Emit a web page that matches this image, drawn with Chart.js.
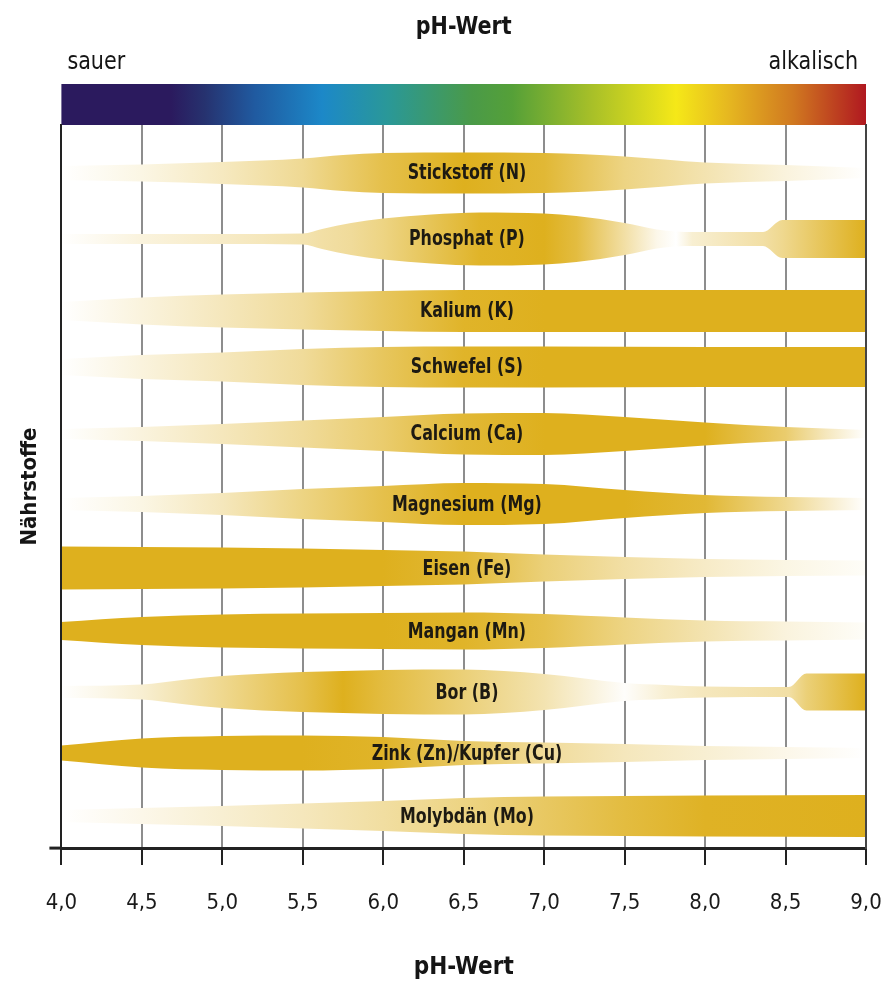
<!DOCTYPE html>
<html><head><meta charset="utf-8">
<script src="https://cdn.jsdelivr.net/npm/chart.js@4.4.1/dist/chart.umd.min.js"></script>
<style>html,body{margin:0;padding:0;background:#fff}#wrap{width:888px;height:985px}</style>
</head><body><div id="wrap"><canvas id="c" width="888" height="985"></canvas></div>
<script>
const FONT = '"Liberation Sans Narrow","DejaVu Sans Condensed","Roboto",sans-serif';

// ---------- data ----------
const nutrients = ['Stickstoff (N)','Phosphat (P)','Kalium (K)','Schwefel (S)','Calcium (Ca)','Magnesium (Mg)','Eisen (Fe)','Mangan (Mn)','Bor (B)','Zink (Zn)/Kupfer (Cu)','Molybdän (Mo)'];
const rowCenter = [67.5, 60.9, 53.7, 48.1, 41.4, 34.4, 28.0, 21.7, 15.6, 9.5, 3.2];

const phN    = [4.0,4.5,5.0,5.5,5.75,6.0,6.5,7.0,7.5,8.0,8.5,9.0];
const halfN  = [0.7,0.85,1.1,1.45,1.8,2.0,2.05,2.0,1.65,1.05,0.8,0.5];
const alphaN = [0,0.12,0.28,0.48,0.65,0.8,1,0.9,0.55,0.35,0.15,0];

const phP    = [4.0,4.5,5.0,5.5,5.62,5.8,6.0,6.3,6.6,7.0,7.2,7.5,7.7,7.82,7.92,8.36,8.48,9.0];
const halfP  = [0.5,0.5,0.5,0.55,1.0,1.6,2.05,2.45,2.65,2.55,2.3,1.6,0.95,0.75,0.7,0.7,1.9,1.9];
const alphaP = [0,0.15,0.25,0.35,0.4,0.45,0.55,0.75,0.95,1,0.85,0.4,0.1,0,0.2,0.4,0.5,1];

const phK    = [4.0,4.5,5.0,5.5,6.0,6.5,7.0,8.0,9.0];
const halfK  = [0.9,1.35,1.65,1.85,2.0,2.1,2.1,2.1,2.1];
const alphaK = [0,0.15,0.3,0.45,0.72,0.95,1,1,1];

const phS    = [4.0,4.5,5.0,5.5,6.0,6.5,7.0,8.0,9.0];
const halfS  = [0.8,1.2,1.45,1.8,2.0,2.05,2.05,2.0,2.0];
const alphaS = [0,0.15,0.3,0.45,0.72,0.95,1,1,1];

const phCa    = [4.0,4.5,5.0,5.5,6.0,6.5,7.0,7.5,8.0,8.5,8.75,9.0];
const halfCa  = [0.5,0.7,1.0,1.35,1.7,2.05,2.1,1.7,1.15,0.7,0.55,0.4];
const alphaCa = [0,0.15,0.3,0.45,0.65,0.9,1,1,1,0.65,0.3,0];

const phMg    = [4.0,4.5,5.0,5.5,6.0,6.5,7.0,7.5,8.0,8.5,8.75,9.0];
const halfMg  = [0.6,0.8,1.1,1.5,1.8,2.1,2.0,1.4,0.9,0.7,0.65,0.6];
const alphaMg = [0,0.12,0.3,0.55,0.8,1,1,1,0.9,0.5,0.25,0];

const phFe    = [4.0,4.5,5.0,5.5,6.0,6.5,7.0,7.5,8.0,8.5,9.0];
const halfFe  = [2.15,2.1,2.05,1.95,1.8,1.65,1.35,1.1,0.9,0.8,0.75];
const alphaFe = [1,1,1,1,1,0.9,0.6,0.4,0.25,0.12,0.03];

const phMn    = [4.0,4.5,5.0,5.5,6.0,6.5,7.0,7.5,8.0,8.5,9.0];
const halfMn  = [0.9,1.4,1.65,1.75,1.8,1.85,1.7,1.35,1.05,0.95,0.85];
const alphaMn = [1,1,1,1,1,0.95,0.8,0.55,0.35,0.15,0.03];

const phB    = [4.0,4.5,4.75,5.0,5.5,5.75,6.0,6.5,7.0,7.5,7.75,8.0,8.52,8.63,9.0];
const halfB  = [0.6,0.75,1.2,1.6,2.0,2.1,2.2,2.25,1.8,0.9,0.7,0.55,0.5,1.85,1.85];
const alphaB = [0,0.2,0.35,0.5,0.8,1,0.85,0.6,0.35,0.02,0.2,0.3,0.4,0.6,1];

const phZn    = [4.0,4.5,5.0,5.5,6.0,6.5,7.0,7.5,8.0,8.5,9.0];
const halfZn  = [0.75,1.45,1.7,1.75,1.6,1.2,1.05,0.9,0.7,0.6,0.5];
const alphaZn = [1,1,1,1,0.95,0.7,0.45,0.3,0.2,0.1,0];

const phMo    = [4.0,4.5,5.0,5.5,6.0,6.5,7.0,7.5,8.0,9.0];
const halfMo  = [0.6,0.8,1.0,1.25,1.5,1.8,1.95,2.0,2.05,2.1];
const alphaMo = [0,0.1,0.2,0.3,0.42,0.55,0.7,0.85,0.97,1];

const xTicks = [4.0,4.5,5.0,5.5,6.0,6.5,7.0,7.5,8.0,8.5,9.0];
const barPH = [4.0,4.68,4.89,5.2,5.62,6.03,6.55,6.8,7.3,7.82,8.14,8.55,9.0];
const barColors = ['#2b1a5e','#2b1a5e','#26326f','#205aa0','#1c88c8','#2a9898','#4a9a48','#55a038','#a8c028','#f5e818','#e6b820','#d07820','#b01820'];
const labelPH = 6.52;

// ---------- build ----------
const phs = [phN,phP,phK,phS,phCa,phMg,phFe,phMn,phB,phZn,phMo];
const halves = [halfN,halfP,halfK,halfS,halfCa,halfMg,halfFe,halfMn,halfB,halfZn,halfMo];
const alphas = [alphaN,alphaP,alphaK,alphaS,alphaCa,alphaMg,alphaFe,alphaMn,alphaB,alphaZn,alphaMo];
const GOLD = [222,176,30];
function mix(a){
  const c = GOLD.map(v => Math.round(255 + (v - 255) * a));
  return `rgb(${c[0]},${c[1]},${c[2]})`;
}
function gradFor(chart, i){
  const xs = chart.scales && chart.scales.x;
  if (!chart.chartArea || !xs) return mix(1);
  const x0 = xs.getPixelForValue(xTicks[0]), x1 = xs.getPixelForValue(xTicks[xTicks.length-1]);
  if (!isFinite(x0) || !isFinite(x1) || x1 <= x0) return mix(1);
  const g = chart.ctx.createLinearGradient(x0,0,x1,0);
  phs[i].forEach((p,k) => {
    const t = Math.min(1, Math.max(0, (xs.getPixelForValue(p) - x0) / (x1 - x0)));
    g.addColorStop(t, mix(alphas[i][k]));
  });
  return g;
}
const datasets = [];
nutrients.forEach((name, i) => {
  datasets.push({
    label: name + ' oben',
    data: phs[i].map((p,k) => ({x:p, y: rowCenter[i] + halves[i][k]})),
    fill: false, borderWidth: 0, borderColor: 'rgba(0,0,0,0)', pointRadius: 0
  });
  datasets.push({
    label: name,
    data: phs[i].map((p,k) => ({x:p, y: rowCenter[i] - halves[i][k]})),
    fill: '-1', borderWidth: 0, borderColor: 'rgba(0,0,0,0)', pointRadius: 0,
    backgroundColor: (ctx) => gradFor(ctx.chart, i)
  });
});

function condensedText(ctx, text, x, y, sx){
  ctx.save();
  ctx.translate(x, y);
  ctx.scale(sx, 1);
  ctx.fillText(text, 0, 0);
  ctx.restore();
}

const decor = {
  id: 'decor',
  beforeDraw(chart){
    const {ctx, chartArea:a, scales:{x}} = chart;
    const x0 = x.getPixelForValue(xTicks[0]), x1 = x.getPixelForValue(xTicks[xTicks.length-1]);
    const g = ctx.createLinearGradient(x0,0,x1,0);
    barPH.forEach((p,k) => g.addColorStop((x.getPixelForValue(p)-x0)/(x1-x0), barColors[k]));
    ctx.save();
    ctx.fillStyle = g;
    ctx.fillRect(x0, a.top - 41, x1 - x0, 41);
    ctx.fillStyle = '#151515';
    ctx.textBaseline = 'middle';
    ctx.font = `bold 25px ${FONT}`;
    ctx.textAlign = 'center';
    condensedText(ctx, 'pH-Wert', (x0 + x1) / 2, 27, 0.92);
    ctx.font = `25px ${FONT}`;
    ctx.textAlign = 'left';
    condensedText(ctx, 'sauer', x0 + 6, 62, 0.92);
    ctx.textAlign = 'right';
    condensedText(ctx, 'alkalisch', x1 - 8, 62, 0.92);
    ctx.restore();
  },
  afterDatasetsDraw(chart){
    const {ctx, scales:{x, y}} = chart;
    ctx.save();
    ctx.fillStyle = '#1d1a12';
    ctx.font = `bold 21px ${FONT}`;
    ctx.textAlign = 'center';
    ctx.textBaseline = 'middle';
    nutrients.forEach((n,i) => condensedText(ctx, n, x.getPixelForValue(labelPH), y.getPixelForValue(rowCenter[i]) + 1, 0.84));
    ctx.restore();
  },
  afterDraw(chart){
    const {ctx, chartArea:a} = chart;
    ctx.save();
    ctx.strokeStyle = '#222'; ctx.lineWidth = 3;
    ctx.beginPath(); ctx.moveTo(a.left - 12, a.bottom); ctx.lineTo(a.left, a.bottom); ctx.stroke();
    ctx.restore();
  }
};

new Chart(document.getElementById('c'), {
  type: 'line',
  data: { datasets },
  options: {
    responsive: false, animation: false, devicePixelRatio: 1,
    layout: { padding: { top: 125, left: 0, right: 22, bottom: 0 } },
    plugins: { legend: { display: false }, tooltip: { enabled: false } },
    elements: { point: { radius: 0 }, line: { tension: 0.4, cubicInterpolationMode: 'monotone' } },
    scales: {
      x: {
        type: 'linear', min: 4, max: 9,
        afterBuildTicks: s => { s.ticks = xTicks.map(v => ({ value: v })); },
        ticks: { callback: v => Number(v).toFixed(1).replace('.', ','), font: { family: FONT, size: 22, lineHeight: 3.45 }, color: '#1a1a1a', padding: 0, maxRotation: 0, autoSkip: false },
        grid: { color: '#8d8d8d', lineWidth: 2, tickLength: 17, tickColor: '#222', tickWidth: 2 },
        border: { color: '#222', width: 3 },
        title: { display: true, text: 'pH-Wert', color: '#151515', font: { family: FONT, size: 24, weight: 'bold' }, padding: { top: 12.6, bottom: 2.6 } }
      },
      y: {
        type: 'linear', min: 0, max: 72.3,
        ticks: { display: false },
        grid: { drawOnChartArea: false, drawTicks: false },
        border: { color: '#222', width: 2, z: 1 },
        title: { display: true, text: 'Nährstoffe', color: '#151515', font: { family: FONT, size: 22, weight: 'bold' }, padding: { top: 17, bottom: 18 } }
      },
      y2: {
        type: 'linear', position: 'right', min: 0, max: 72.3,
        ticks: { display: false },
        grid: { drawOnChartArea: false, drawTicks: false },
        border: { color: '#444', width: 2, z: 1 }
      }
    }
  },
  plugins: [decor]
});
</script>
</body></html>
